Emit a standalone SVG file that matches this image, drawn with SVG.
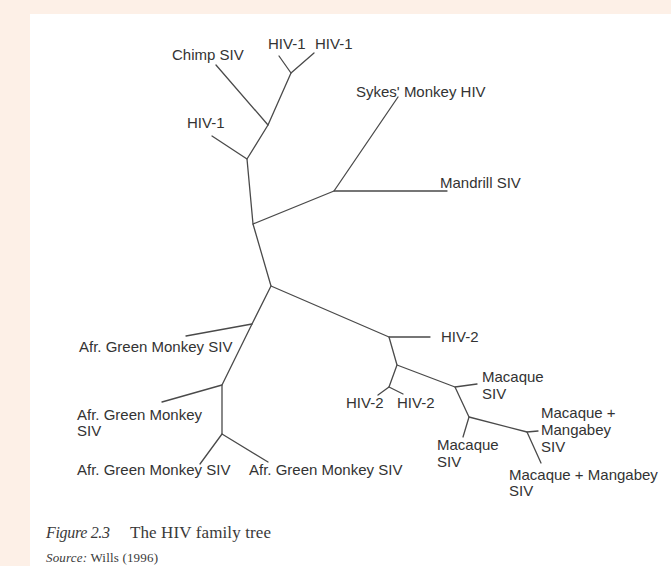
<svg xmlns="http://www.w3.org/2000/svg" width="671" height="566" viewBox="0 0 671 566">
<style>
.bg{fill:#fdf0e7}
.paper{fill:#ffffff}
.edge{stroke:#4a4a4a;stroke-width:1.3;fill:none;stroke-linecap:round;stroke-linejoin:round}
.lbl{font-family:"Liberation Sans",Arial,sans-serif;font-size:15px;fill:#333333}
.cap{font-family:"Liberation Serif","Times New Roman",serif;fill:#3a3a3a}
</style>
<rect class="bg" x="0" y="0" width="671" height="566"/>
<rect class="paper" x="30" y="14" width="641" height="552"/>
<g id="connectors">
<path class="edge" d="M279,56 L291,73 L314,53"/>
<path class="edge" d="M291,73 L268,125 L247,159 L253,224 L271,286 L252,324 L222,385 L222,434"/>
<path class="edge" d="M216,65 L268,125"/>
<path class="edge" d="M212,136 L247,159"/>
<path class="edge" d="M253,224 L334,191 L398,97"/>
<path class="edge" d="M334,191 L447,191"/>
<path class="edge" d="M271,286 L389,337 L430,337"/>
<path class="edge" d="M389,337 L397,365 L389,387 L378,395"/>
<path class="edge" d="M389,387 L403,394"/>
<path class="edge" d="M397,365 L455,387 L477,384"/>
<path class="edge" d="M455,387 L469,417 L463,437"/>
<path class="edge" d="M469,417 L527,432 L538,431"/>
<path class="edge" d="M527,432 L541,463"/>
<path class="edge" d="M252,324 L186,336"/>
<path class="edge" d="M222,385 L162,402"/>
<path class="edge" d="M200,464 L222,434 L268,462"/>
</g>
<g id="chimp-siv"><text class="lbl" x="172" y="60">Chimp SIV</text></g>
<g id="hiv1-a"><text class="lbl" x="268" y="49">HIV-1</text></g>
<g id="hiv1-b"><text class="lbl" x="315" y="49">HIV-1</text></g>
<g id="hiv1-c"><text class="lbl" x="187" y="128">HIV-1</text></g>
<g id="sykes"><text class="lbl" x="356" y="97">Sykes' Monkey HIV</text></g>
<g id="mandrill"><text class="lbl" x="440" y="188">Mandrill SIV</text></g>
<g id="hiv2-a"><text class="lbl" x="441" y="342">HIV-2</text></g>
<g id="agm-1"><text class="lbl" x="79" y="352">Afr. Green Monkey SIV</text></g>
<g id="agm-2"><text class="lbl" x="77" y="420">Afr. Green Monkey<tspan x="77" y="436">SIV</tspan></text></g>
<g id="agm-3"><text class="lbl" x="77" y="475">Afr. Green Monkey SIV</text></g>
<g id="agm-4"><text class="lbl" x="249" y="475">Afr. Green Monkey SIV</text></g>
<g id="hiv2-b"><text class="lbl" x="346" y="408">HIV-2</text></g>
<g id="hiv2-c"><text class="lbl" x="397" y="408">HIV-2</text></g>
<g id="macaque-1"><text class="lbl" x="482" y="382">Macaque<tspan x="482" y="399">SIV</tspan></text></g>
<g id="macaque-2"><text class="lbl" x="437" y="450">Macaque<tspan x="437" y="467">SIV</tspan></text></g>
<g id="macmang-1"><text class="lbl" x="541" y="418">Macaque +<tspan x="541" y="435">Mangabey</tspan><tspan x="541" y="452">SIV</tspan></text></g>
<g id="macmang-2"><text class="lbl" x="509" y="480">Macaque + Mangabey<tspan x="509" y="496">SIV</tspan></text></g>
<g id="caption">
<text class="cap" x="46" y="538" font-size="16" font-style="italic" textLength="64">Figure 2.3</text>
<text class="cap" x="130" y="538" font-size="17" textLength="141">The HIV family tree</text>
<text class="cap" x="46" y="562" font-size="13" textLength="112"><tspan font-style="italic">Source:</tspan> Wills (1996)</text>
</g>
</svg>
